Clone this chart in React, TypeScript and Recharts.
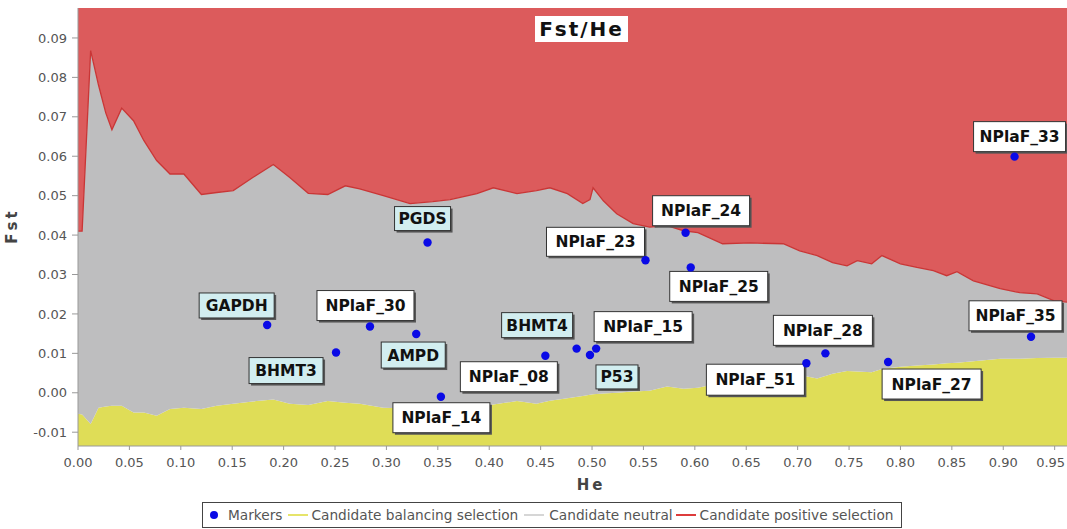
import React from 'react';
import {
  ComposedChart,
  Area,
  Line,
  Scatter,
  XAxis,
  YAxis,
  CartesianGrid,
  Legend } from
'recharts';

// background bands: He grid with the lower (balancing) and upper (positive) limits
const curveHe = [
0, 0.004, 0.0123, 0.02, 0.027, 0.033, 0.0425, 0.054, 0.064, 0.0765, 0.0895, 0.103,
0.12, 0.135, 0.151, 0.17, 0.19, 0.206, 0.224, 0.243, 0.26, 0.274, 0.297, 0.323,
0.345, 0.362, 0.388, 0.404, 0.427, 0.446, 0.459, 0.476, 0.491, 0.498, 0.501, 0.511,
0.524, 0.54, 0.556, 0.573, 0.589, 0.603, 0.627, 0.654, 0.686, 0.702, 0.719, 0.734,
0.748, 0.758, 0.772, 0.782, 0.8, 0.816, 0.832, 0.845, 0.855, 0.871, 0.897, 0.916,
0.933, 0.949, 0.962];

const upperFst = [
0.041, 0.041, 0.0868, 0.078, 0.071, 0.0667, 0.0722, 0.069, 0.064, 0.0589, 0.0555, 0.0555,
0.0503, 0.0508, 0.0513, 0.0546, 0.0579, 0.0546, 0.0506, 0.0503, 0.0525, 0.0517, 0.05, 0.048,
0.0485, 0.049, 0.0505, 0.052, 0.0505, 0.0513, 0.052, 0.0505, 0.048, 0.049, 0.052, 0.0487,
0.0454, 0.0429, 0.042, 0.0424, 0.0411, 0.0406, 0.0378, 0.038, 0.0378, 0.036, 0.0348, 0.033,
0.0322, 0.0335, 0.0327, 0.0348, 0.0327, 0.0318, 0.031, 0.0297, 0.0307, 0.0284, 0.0264, 0.0254,
0.0251, 0.0234, 0.023];

const lowerFst = [
-0.0053, -0.0055, -0.0079, -0.0038, -0.0035, -0.0033, -0.0033, -0.005, -0.005, -0.0058, -0.0041, -0.0038,
-0.0041, -0.0033, -0.0028, -0.0022, -0.0017, -0.0028, -0.0031, -0.0021, -0.0025, -0.0028, -0.0038, -0.004,
-0.004, -0.0038, -0.0034, -0.003, -0.0021, -0.0028, -0.002, -0.0014, -0.0008, -0.0005, -0.0004, -0.0002,
0, 0.0003, 0.0005, 0.0016, 0.001, 0.0013, 0.0026, 0.0034, 0.0044, 0.0045, 0.0036, 0.0048,
0.0055, 0.0054, 0.0052, 0.006, 0.0066, 0.0069, 0.0072, 0.0075, 0.0076, 0.008, 0.0086, 0.0086,
0.0088, 0.0089, 0.0089];

// markers
const markerNames = [
'GAPDH', 'BHMT3', 'NPlaF_30', 'AMPD', 'PGDS', 'NPlaF_14', 'NPlaF_08', 'BHMT4', 'P53',
'NPlaF_15', 'NPlaF_23', 'NPlaF_24', 'NPlaF_25', 'NPlaF_51', 'NPlaF_28', 'NPlaF_27',
'NPlaF_35', 'NPlaF_33'];

const markerHe = [
0.184, 0.251, 0.284, 0.329, 0.34, 0.353, 0.4546, 0.485, 0.498,
0.504, 0.552, 0.591, 0.596, 0.7085, 0.727, 0.788, 0.927, 0.911];

const markerFst = [
0.0172, 0.0102, 0.0168, 0.0149, 0.0381, -0.001, 0.0094, 0.0112, 0.0096,
0.0112, 0.0336, 0.0406, 0.0318, 0.0075, 0.01, 0.0078, 0.0142, 0.0599];

const xTicks = [0, 0.05, 0.1, 0.15, 0.2, 0.25, 0.3, 0.35, 0.4, 0.45, 0.5, 0.55, 0.6, 0.65, 0.7, 0.75, 0.8, 0.85, 0.9, 0.95];
const yTicks = [-0.01, 0, 0.01, 0.02, 0.03, 0.04, 0.05, 0.06, 0.07, 0.08, 0.09];

const Y_MIN = -0.0135;
const Y_MAX = 0.0976;

const bands = curveHe.map((he, i) => ({ he, lower: lowerFst[i], upper: upperFst[i] }));
const markers = markerNames.map((name, i) => ({ name, he: markerHe[i], fst: markerFst[i] }));

// label box placement relative to the dot: [dx, dy, width, height]
const labelBox: Record<string, number[]> = {
  GAPDH: [-68, -32, 75, 25],
  BHMT3: [-87, 5, 74, 26],
  NPlaF_30: [-53, -36, 97, 30],
  PGDS: [-33, -36, 56, 24],
  AMPD: [-35, 8, 64, 26],
  NPlaF_14: [-48, 6, 97, 30],
  NPlaF_08: [-85, 6, 97, 30],
  BHMT4: [-75, -36, 71, 25],
  NPlaF_15: [-2, -37, 98, 30],
  P53: [6, 10, 42, 24],
  NPlaF_23: [-99, -33, 98, 29],
  NPlaF_24: [-33, -37, 97, 30],
  NPlaF_25: [-21, 4, 98, 30],
  NPlaF_28: [-52, -38, 99, 30],
  NPlaF_51: [-100, 1, 98, 31],
  NPlaF_27: [-6, 7, 99, 30],
  NPlaF_35: [-62, -36, 93, 30],
  NPlaF_33: [-41, -35, 92, 30]
};

const RED = '#dc5b5c';
const GREY = '#bebebf';
const YELLOW = '#dfdd57';

const MarkerShape = (props: any) => {
  const { cx, cy, payload } = props;
  const [dx, dy, w, h] = labelBox[payload.name] || [0, -30, 90, 28];
  const gene = !payload.name.startsWith('NPlaF');
  const bx = cx + dx;
  const by = cy + dy;
  return (
    <g>
      <rect x={bx + 2} y={by + 2} width={w} height={h} fill="#555" />
      <rect x={bx} y={by} width={w} height={h} fill={gene ? '#d2eef0' : '#ffffff'} stroke="#333" strokeWidth={1} />
      <text
        x={bx + w / 2}
        y={by + h / 2 + 5.5}
        textAnchor="middle"
        fontFamily="DejaVu Sans"
        fontWeight="bold"
        fontSize={15.5}
        fill="#111">
        {payload.name}
      </text>
      <circle cx={cx} cy={cy} r={4.2} fill="#0a0ae6" />
    </g>);

};

// the last tick sits on the cropped right edge, nudge it inside
const XTick = (props: any) => {
  const { x, y, payload } = props;
  const last = payload.value === xTicks[xTicks.length - 1];
  return (
    <text x={last ? x - 4 : x} y={y + 12} textAnchor="middle" fill="#555" fontSize={13} fontFamily="DejaVu Sans">
      {payload.value.toFixed(2)}
    </text>);

};

const LegendBox = () =>
<div
  style={{
    marginLeft: 202,
    width: 700,
    height: 26,
    boxSizing: 'border-box',
    border: '1px solid #444',
    display: 'flex',
    alignItems: 'center',
    fontFamily: 'DejaVu Sans',
    fontSize: 13.7,
    color: '#555',
    whiteSpace: 'nowrap'
  }}>
    <span style={{ width: 8, height: 8, borderRadius: 4, background: '#0a0ae6', marginLeft: 7, marginRight: 10 }} />
    <span>Markers</span>
    <span style={{ width: 20, height: 2, background: '#e6e46a', marginLeft: 6, marginRight: 3 }} />
    <span>Candidate balancing selection</span>
    <span style={{ width: 20, height: 2, background: '#d6d6d6', marginLeft: 6, marginRight: 5 }} />
    <span>Candidate neutral</span>
    <span style={{ width: 20, height: 2, background: '#dd3c3c', marginLeft: 3, marginRight: 4 }} />
    <span>Candidate positive selection</span>
  </div>;


export default function App() {
  return (
    <div style={{ position: 'fixed', left: 0, top: 0, width: 1067, height: 529, background: '#fff' }}>
      <ComposedChart
        width={1067}
        height={529}
        data={bands}
        margin={{ top: 8, right: 0, bottom: 27, left: 0 }}>

        <XAxis
          dataKey="he"
          type="number"
          domain={[0, 0.962]}
          allowDataOverflow
          ticks={xTicks}
          interval={0}
          tick={<XTick />}
          tickSize={4}
          tickMargin={5}
          height={30}
          stroke="#999"
          label={{
            content: () =>
            <text x={591} y={490} textAnchor="middle" fontFamily="DejaVu Sans" fontWeight="bold" fontSize={15} letterSpacing={3} fill="#444">
                He
              </text>
          }} />

        <YAxis
          type="number"
          domain={[Y_MIN, Y_MAX]}
          allowDataOverflow
          ticks={yTicks}
          interval={0}
          tickFormatter={(v) => v.toFixed(2)}
          tick={{ fill: '#555', fontSize: 13, fontFamily: 'DejaVu Sans' }}
          tickSize={6}
          tickMargin={5}
          width={78}
          stroke="#999"
          label={{
            content: () =>
            <text x={17} y={226} transform="rotate(-90 17 226)" textAnchor="middle" fontFamily="DejaVu Sans" fontWeight="bold" fontSize={15} letterSpacing={3} fill="#444">
                Fst
              </text>
          }} />

        <Area
          dataKey={(d: any) => [Y_MIN, d.lower]}
          name="Candidate balancing selection"
          type="linear"
          fill={YELLOW}
          fillOpacity={1}
          stroke="none"
          isAnimationActive={false} />

        <Area
          dataKey={(d: any) => [d.lower, d.upper]}
          name="Candidate neutral"
          type="linear"
          fill={GREY}
          fillOpacity={1}
          stroke="none"
          isAnimationActive={false} />

        <Area
          dataKey={(d: any) => [d.upper, Y_MAX]}
          name="Candidate positive selection"
          type="linear"
          fill={RED}
          fillOpacity={1}
          stroke="none"
          isAnimationActive={false} />

        <Line
          dataKey="upper"
          type="linear"
          stroke="#c93636"
          strokeWidth={1.3}
          dot={false}
          activeDot={false}
          legendType="none"
          isAnimationActive={false} />

        <CartesianGrid stroke="#ffffff" strokeOpacity={0.18} horizontalValues={yTicks} verticalValues={xTicks} />
        <Scatter
          data={markers}
          dataKey="fst"
          name="Markers"
          fill="#0a0ae6"
          shape={MarkerShape}
          isAnimationActive={false} />

        <Legend
          verticalAlign="bottom"
          content={() => <LegendBox />}
          wrapperStyle={{ left: 0, bottom: 1, width: 1067 }} />

      </ComposedChart>
      <div
        style={{
          position: 'absolute',
          left: 535,
          top: 16,
          width: 93,
          height: 26,
          background: '#fff',
          fontFamily: 'DejaVu Sans',
          fontWeight: 'bold',
          fontSize: 20,
          letterSpacing: 2,
          lineHeight: '26px',
          textAlign: 'center',
          color: '#111'
        }}>
        Fst/He
      </div>
    </div>);

}
